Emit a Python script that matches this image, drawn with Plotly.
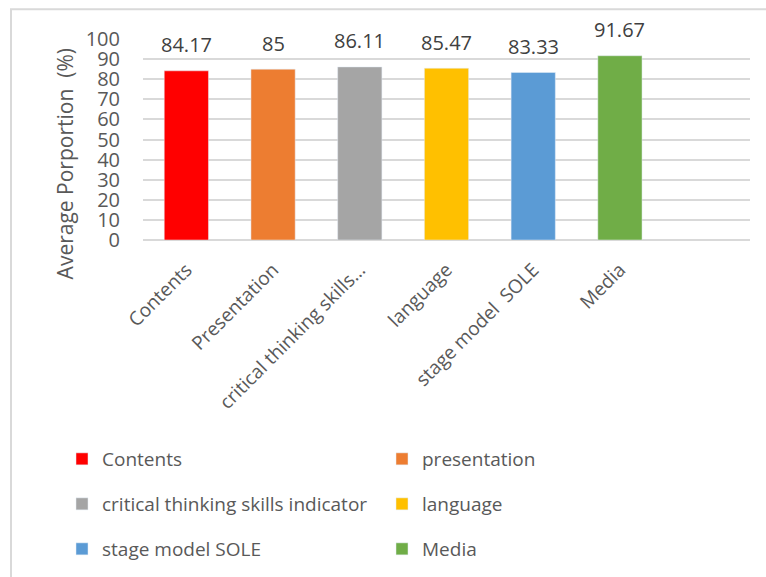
import plotly.graph_objects as go

categories = ["Contents", "Presentation", "critical thinking skills…", "language", "stage model  SOLE", "Media"]
legend_names = ["Contents", "presentation", "critical thinking skills indicator", "language", "stage model SOLE", "Media"]
values = [84.17, 85, 86.11, 85.47, 83.33, 91.67]
value_labels = ["84.17", "85", "86.11", "85.47", "83.33", "91.67"]
colors = ["#FF0000", "#ED7D31", "#A5A5A5", "#FFC000", "#5B9BD5", "#70AD47"]
y_ticks = [0, 10, 20, 30, 40, 50, 60, 70, 80, 90, 100]

FONT = "Open Sans"
TXT = "#595959"
W, H = 766, 577
L, R, T, B = 143, 16, 39, 336
pw = W - L - R
ph = H - T - B

def px_to_paper_x(px):
    return (px - L) / pw

def px_to_paper_y(py):
    return (H - B - py) / ph

legend_ids = ["legend", "legend", "legend2", "legend2", "legend3", "legend3"]

fig = go.Figure()
for i, (cat, name, v, c) in enumerate(zip(categories, legend_names, values, colors)):
    fig.add_trace(go.Bar(x=[cat], y=[v], name=name, marker_color=c, width=0.51,
                         legend=legend_ids[i], showlegend=True))

for cat, v, lab in zip(categories, values, value_labels):
    fig.add_annotation(x=cat, y=v, text=lab, showarrow=False, yshift=26, yanchor="middle",
                       font=dict(family=FONT, size=20, color="#404040"))

fig.add_annotation(xref="paper", yref="paper", x=px_to_paper_x(65), y=px_to_paper_y(165),
                   text="Average Porportion\u00a0\u00a0(%)", textangle=-90, showarrow=False,
                   font=dict(family=FONT, size=21, color=TXT), xanchor="center", yanchor="middle")

fig.add_shape(type="rect", xref="paper", yref="paper",
              x0=px_to_paper_x(11), x1=px_to_paper_x(780), y0=px_to_paper_y(590), y1=px_to_paper_y(9),
              line=dict(color="#D9D9D9", width=2), fillcolor="rgba(0,0,0,0)", layer="below")

leg_common = dict(orientation="h", xanchor="left", yanchor="middle", entrywidth=275,
                  entrywidthmode="pixels", bgcolor="rgba(0,0,0,0)",
                  font=dict(family=FONT, size=19, color=TXT), x=px_to_paper_x(62))

fig.update_layout(
    width=W, height=H,
    margin=dict(l=L, r=R, t=T, b=B),
    paper_bgcolor="white", plot_bgcolor="white",
    barmode="overlay",
    font=dict(family=FONT, color=TXT),
    xaxis=dict(type="category", categoryarray=categories, range=[-0.5, 6.5],
               tickangle=-45, tickfont=dict(family=FONT, size=19, color=TXT),
               showgrid=False, showline=False, ticks="", ticklabelstandoff=14),
    yaxis=dict(range=[0, 100], tickvals=y_ticks, tickfont=dict(family=FONT, size=20, color=TXT),
               showgrid=True, gridcolor="#D9D9D9", gridwidth=1.5, zeroline=True,
               zerolinecolor="#D9D9D9", zerolinewidth=1.5, showline=False, ticks="",
               ticklabelstandoff=22),
    legend=dict(y=px_to_paper_y(459), **leg_common),
    legend2=dict(y=px_to_paper_y(504), **leg_common),
    legend3=dict(y=px_to_paper_y(549), **leg_common),
)

fig.write_html("out.html", config={"displayModeBar": False},
               post_script="document.body.style.margin='0';document.body.style.overflow='hidden';")
